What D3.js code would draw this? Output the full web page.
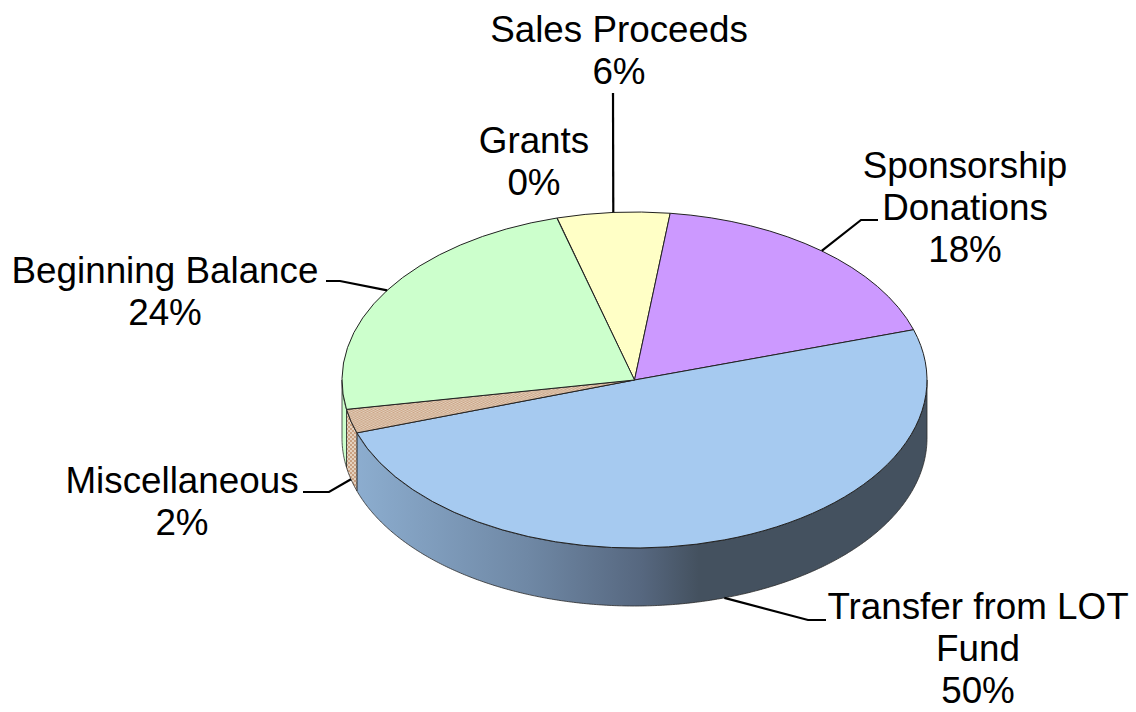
<!DOCTYPE html>
<html>
<head>
<meta charset="utf-8">
<script src="https://d3js.org/d3.v7.min.js"></script>
<style>
  html, body { margin: 0; background: #fff; }
  svg { display: block; }
  text { font-family: "Liberation Sans", Arial, sans-serif; font-size: 36.8px; fill: #000; text-anchor: middle; }
</style>
</head>
<body>
<svg id="chart"></svg>
<script>
const categories = ['Grants', 'Sales Proceeds', 'Sponsorship Donations', 'Transfer from LOT Fund', 'Miscellaneous', 'Beginning Balance'];
const values = [0.02, 6.2, 18.2, 49.7, 2.3, 23.5];
const labelLines = [['Grants'], ['Sales Proceeds'], ['Sponsorship', 'Donations'], ['Transfer from LOT', 'Fund'], ['Miscellaneous'], ['Beginning Balance']];
const topColors = ['#ffffc6', '#ffffc6', '#cc99ff', '#a6caf0', 'url(#hatch)', '#ccffcc'];
const wallColors = ['#ffffc6', '#ffffc6', '#cc99ff', 'url(#wallBlue)', 'url(#hatch)', '#ccffcc'];

// label centre and first baseline, then the elbow of the leader (null = no leader)
const labelAt = [[534, 153], [619, 42], [965, 178], [978, 619], [182, 493], [165, 283]];
const elbows = [
    null,
    [[613, 93]],
    [[861, 220], [878, 220]],
    [[808, 620], [826, 620]],
    [[329, 492], [303, 492]],
    [[340, 281], [326, 281]]
];

const width = 1136, height = 712;
const cx = 634.5, cy = 380, rx = 292.5, ry = 168, depth = 58;
const lineHeight = 42;

const svg = d3.select('#chart').attr('width', width).attr('height', height);
const defs = svg.append('defs');

// small dotted fill of the Miscellaneous slice
const hatch = defs.append('pattern').attr('id', 'hatch')
    .attr('patternUnits', 'userSpaceOnUse').attr('width', 4).attr('height', 4);
hatch.append('rect').attr('width', 4).attr('height', 4).attr('fill', '#c9a182');
hatch.append('rect').attr('width', 2).attr('height', 2).attr('fill', '#e4d2bf');
hatch.append('rect').attr('x', 2).attr('y', 2).attr('width', 2).attr('height', 2).attr('fill', '#e4d2bf');

const grad = defs.append('linearGradient').attr('id', 'wallBlue')
    .attr('gradientUnits', 'userSpaceOnUse')
    .attr('x1', 357).attr('x2', 927).attr('y1', 0).attr('y2', 0);
[[0, '#8cadcf'], [0.3, '#6f88a5'], [0.5, '#56677f'], [0.6, '#44515f'], [1, '#44515f']].forEach(s => {
    grad.append('stop').attr('offset', s[0]).attr('stop-color', s[1]);
});

const deg = Math.PI / 180;
const start = -15.4 * deg;
const slices = d3.pie().sort(null).value(d => d)
    .startAngle(start).endAngle(start + 2 * Math.PI)(values);

const px = a => cx + rx * Math.sin(a);
const py = a => cy - ry * Math.cos(a);

// front walls first, only the part between 90 and 270 degrees shows
const wall = d3.line();
slices.forEach((s, i) => {
    const a0 = Math.max(s.startAngle, Math.PI / 2);
    const a1 = Math.min(s.endAngle, 3 * Math.PI / 2);
    if (a1 <= a0) return;
    const steps = d3.range(a0, a1, deg / 2).concat([a1]);
    const pts = steps.map(a => [px(a), py(a)])
        .concat(steps.slice().reverse().map(a => [px(a), py(a) + depth]));
    svg.append('path')
        .attr('d', wall(pts) + 'Z')
        .attr('fill', wallColors[i])
        .attr('stroke', '#2b2b2b')
        .attr('stroke-width', 0.8);
});

// top of the pie, a flat d3 arc squashed to an ellipse
const arc = d3.arc().innerRadius(0).outerRadius(rx);
svg.append('g')
    .attr('transform', `translate(${cx},${cy}) scale(1,${ry / rx})`)
    .selectAll('path')
    .data(slices)
    .enter()
    .append('path')
    .attr('d', arc)
    .attr('fill', (d, i) => topColors[i])
    .attr('stroke', '#222')
    .attr('stroke-width', 1)
    .attr('vector-effect', 'non-scaling-stroke');

// leaders start at the slice middle, on the lower rim for front slices
const leader = d3.line();
slices.forEach((s, i) => {
    if (!elbows[i]) return;
    const mid = (s.startAngle + s.endAngle) / 2;
    const front = Math.cos(mid) < 0;
    const from = [px(mid), py(mid) + (front ? depth : 0)];
    svg.append('path')
        .attr('d', leader([from].concat(elbows[i])))
        .attr('fill', 'none')
        .attr('stroke', '#000')
        .attr('stroke-width', 2.2);
});

// labels
categories.forEach((c, i) => {
    const lines = labelLines[i].concat([Math.round(values[i]) + '%']);
    const t = svg.append('text').attr('x', labelAt[i][0]).attr('y', labelAt[i][1]);
    lines.forEach((l, j) => {
        t.append('tspan')
            .attr('x', labelAt[i][0])
            .attr('y', labelAt[i][1] + j * lineHeight)
            .text(l);
    });
});
</script>
</body>
</html>
